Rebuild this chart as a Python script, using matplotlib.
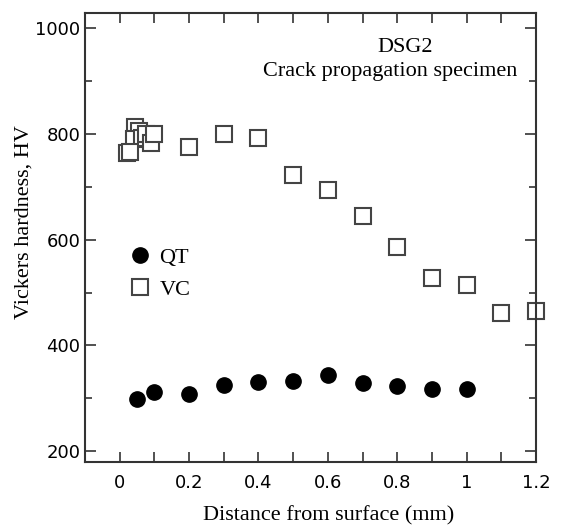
import matplotlib
matplotlib.use("Agg")
import matplotlib.pyplot as plt
from matplotlib.ticker import MultipleLocator, FuncFormatter

# hardness profiles
qt_depth = [0.05, 0.1, 0.2, 0.3, 0.4, 0.5, 0.6, 0.7, 0.8, 0.9, 1.0]
qt_hv = [298, 311, 309, 325, 330, 332, 345, 329, 323, 318, 318]

vc_depth = [0.045, 0.055, 0.04, 0.065, 0.075, 0.09, 0.1, 0.02, 0.03,
            0.2, 0.3, 0.4, 0.5, 0.6, 0.7, 0.8, 0.9, 1.0, 1.1, 1.2]
vc_hv = [813, 806, 790, 793, 800, 783, 801, 764, 766,
         776, 801, 792, 722, 694, 644, 586, 527, 515, 461, 466]

serif = "Liberation Serif"
sans = "DejaVu Sans"

fig = plt.figure(figsize=(5.63, 5.27), dpi=100)
ax = fig.add_axes([85/563, 1-461.7/527, (536-85)/563, (461.7-12.5)/527])

edge = "#444444"
ax.plot(qt_depth, qt_hv, linestyle="none", marker="o", ms=11,
        mfc="black", mec="black", label="QT", clip_on=False)
ax.plot(vc_depth, vc_hv, linestyle="none", marker="s", ms=12,
        mfc="white", mec=edge, mew=1.5, label="VC", clip_on=False)

ax.set_xlim(-0.1, 1.2)
ax.set_ylim(180, 1030)
ax.xaxis.set_major_locator(MultipleLocator(0.2))
ax.xaxis.set_minor_locator(MultipleLocator(0.1))
ax.yaxis.set_major_locator(MultipleLocator(200))
ax.yaxis.set_minor_locator(MultipleLocator(100))
ax.xaxis.set_major_formatter(FuncFormatter(lambda v, p: "%g" % round(v, 2)))

ax.tick_params(which="both", direction="in", top=True, right=True,
               color="#333333", width=1.2, labelsize=13)
ax.tick_params(axis="x", which="both", length=7, pad=9)
ax.tick_params(axis="y", which="major", length=8, pad=3.3)
ax.tick_params(axis="y", which="minor", length=5)
for lab in ax.get_xticklabels() + ax.get_yticklabels():
    lab.set_fontfamily(sans)
for s in ax.spines.values():
    s.set_color("#333333")
    s.set_linewidth(1.5)

ax.set_xlabel("Distance from surface (mm)", fontfamily=serif, fontsize=16)
ax.xaxis.label.set_va("baseline")
ax.xaxis.set_label_coords(0.541, -0.1298)
ax.set_ylabel("Vickers hardness, HV", fontfamily=serif, fontsize=16)
ax.yaxis.label.set_va("center")
ax.yaxis.set_label_coords(-0.135, 0.534)

ax.text(0.7106, 0.9127, "DSG2", transform=ax.transAxes, ha="center",
        va="baseline", fontfamily=serif, fontsize=16)
ax.text(0.676, 0.8587, "Crack propagation specimen", transform=ax.transAxes,
        ha="center", va="baseline", fontfamily=serif, fontsize=16)

leg = ax.legend(loc="center left", bbox_to_anchor=(0.0976, 0.419), frameon=False,
                prop={"family": serif, "size": 16}, handlelength=1.0,
                handletextpad=0.37, labelspacing=0.5, borderpad=0,
                borderaxespad=0)

fig.savefig("out.png", dpi=100)
